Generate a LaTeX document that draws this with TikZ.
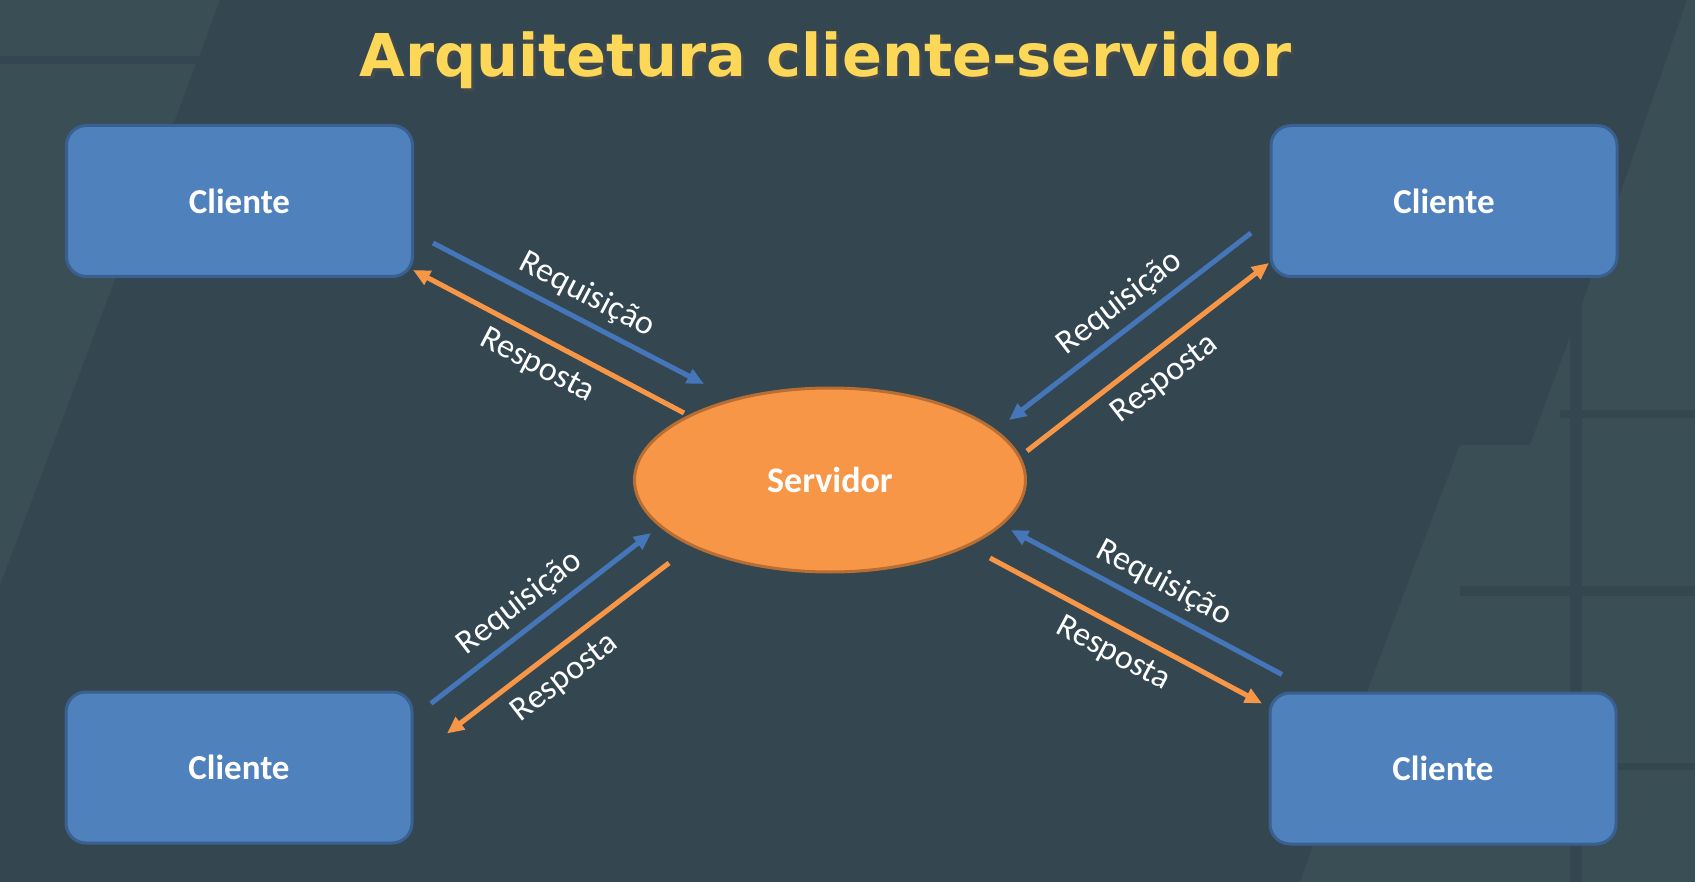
\documentclass[tikz,border=0pt]{standalone}
\usepackage{fontspec}
\setmainfont{Carlito}
\newfontfamily\titlefont{DejaVu Sans}
\usepackage{tikz}
\usetikzlibrary{arrows.meta,shapes.geometric}

\definecolor{fundo}{RGB}{52,71,80}
\definecolor{painel}{RGB}{58,78,86}
\definecolor{azul}{RGB}{79,129,189}
\definecolor{bordaazul}{RGB}{58,96,146}
\definecolor{setaazul}{RGB}{70,118,186}
\definecolor{laranja}{RGB}{247,150,70}
\definecolor{bordalaranja}{RGB}{184,110,50}
\definecolor{amarelo}{RGB}{252,215,88}

\tikzset{
  cliente/.style={draw=bordaazul,fill=azul,line width=3pt,rounded corners=20pt,
    minimum width=346pt,minimum height=151pt,text=white,
    font=\fontsize{35}{40}\selectfont\bfseries},
  servidor/.style={ellipse,draw=bordalaranja,fill=laranja,line width=3pt,
    minimum width=391pt,minimum height=184pt,text=white,
    font=\fontsize{36}{40}\selectfont\bfseries},
  req/.style={draw=setaazul,line width=5pt,-{Triangle[length=17pt,width=15pt]}},
  resp/.style={draw=laranja,line width=5pt,-{Triangle[length=17pt,width=15pt]}},
  rotulo/.style={text=white,inner sep=0pt,font=\fontsize{34}{38}\selectfont},
  titulo/.style={anchor=base,inner sep=0pt,font=\titlefont\fontsize{59}{66}\selectfont\bfseries}
}

\begin{document}
\begin{tikzpicture}[x=1pt,y=-1pt]
\fill[fundo] (0,0) rectangle (1695,882);
\useasboundingbox (0,0) rectangle (1695,882);

\begin{scope}
  \fill[painel] (0,0) -- (220,0) -- (0,585) -- cycle;
  \fill[painel] (1687,0) -- (1695,0) -- (1695,882) -- (1300,882) -- (1367,692)
    -- (1460,445) -- (1530,445) -- (1580,310) -- cycle;
  \fill[fundo] (0,56) rectangle (200,64);
  \fill[fundo] (1460,586) rectangle (1695,596);
  \fill[fundo] (1570,300) rectangle (1582,882);
  \fill[fundo] (1560,410) rectangle (1695,418);
  \fill[fundo] (1340,763) rectangle (1695,770);
\end{scope}

\node[titulo,text=black!70,opacity=0.7] (titsombra) at (828.5,80) {Arquitetura cliente-servidor};
\node[titulo,text=amarelo] (tit) at (825.5,77) {Arquitetura cliente-servidor};

\node[cliente] (c1) at (239.5,201) {Cliente};
\node[cliente] (c2) at (1444,201) {Cliente};
\node[cliente] (c3) at (239,767.5) {Cliente};
\node[cliente] (c4) at (1443,768.5) {Cliente};
\node[servidor] (srv) at (830,480) {Servidor};

\draw[req] ([shift={(19,-35)}]c1.south east) -- ([shift={(-126,-96)}]srv.center);
\draw[resp] ([shift={(-146,-67)}]srv.center) -- ([shift={(-1,-8)}]c1.south east);
\draw[req] ([shift={(-18.5,-45)}]c2.south west) -- ([shift={(179,-60)}]srv.center);
\draw[resp] ([shift={(197,-29)}]srv.center) -- ([shift={(-0.5,-15)}]c2.south west);
\draw[req] ([shift={(17.5,13)}]c3.north east) -- ([shift={(-179,53)}]srv.center);
\draw[resp] ([shift={(-161,83)}]srv.center) -- ([shift={(33.5,43)}]c3.north east);
\draw[req] ([shift={(13.5,-17)}]c4.north west) -- ([shift={(181,50)}]srv.center);
\draw[resp] ([shift={(160,78)}]srv.center) -- ([shift={(-6.5,12)}]c4.north west);

\node[rotulo,rotate=-27.5] (rq1) at (587,295) {Requisição};
\node[rotulo,rotate=-27.5] (rs1) at (537,366) {Resposta};
\node[rotulo,rotate=37.7] (rq2) at (1120,303) {Requisição};
\node[rotulo,rotate=37.7] (rs2) at (1165,379) {Resposta};
\node[rotulo,rotate=37.7] (rq3) at (520,603) {Requisição};
\node[rotulo,rotate=37.7] (rs3) at (565,678) {Resposta};
\node[rotulo,rotate=-28] (rq4) at (1164,583) {Requisição};
\node[rotulo,rotate=-28] (rs4) at (1113,654) {Resposta};
\end{tikzpicture}
\end{document}
